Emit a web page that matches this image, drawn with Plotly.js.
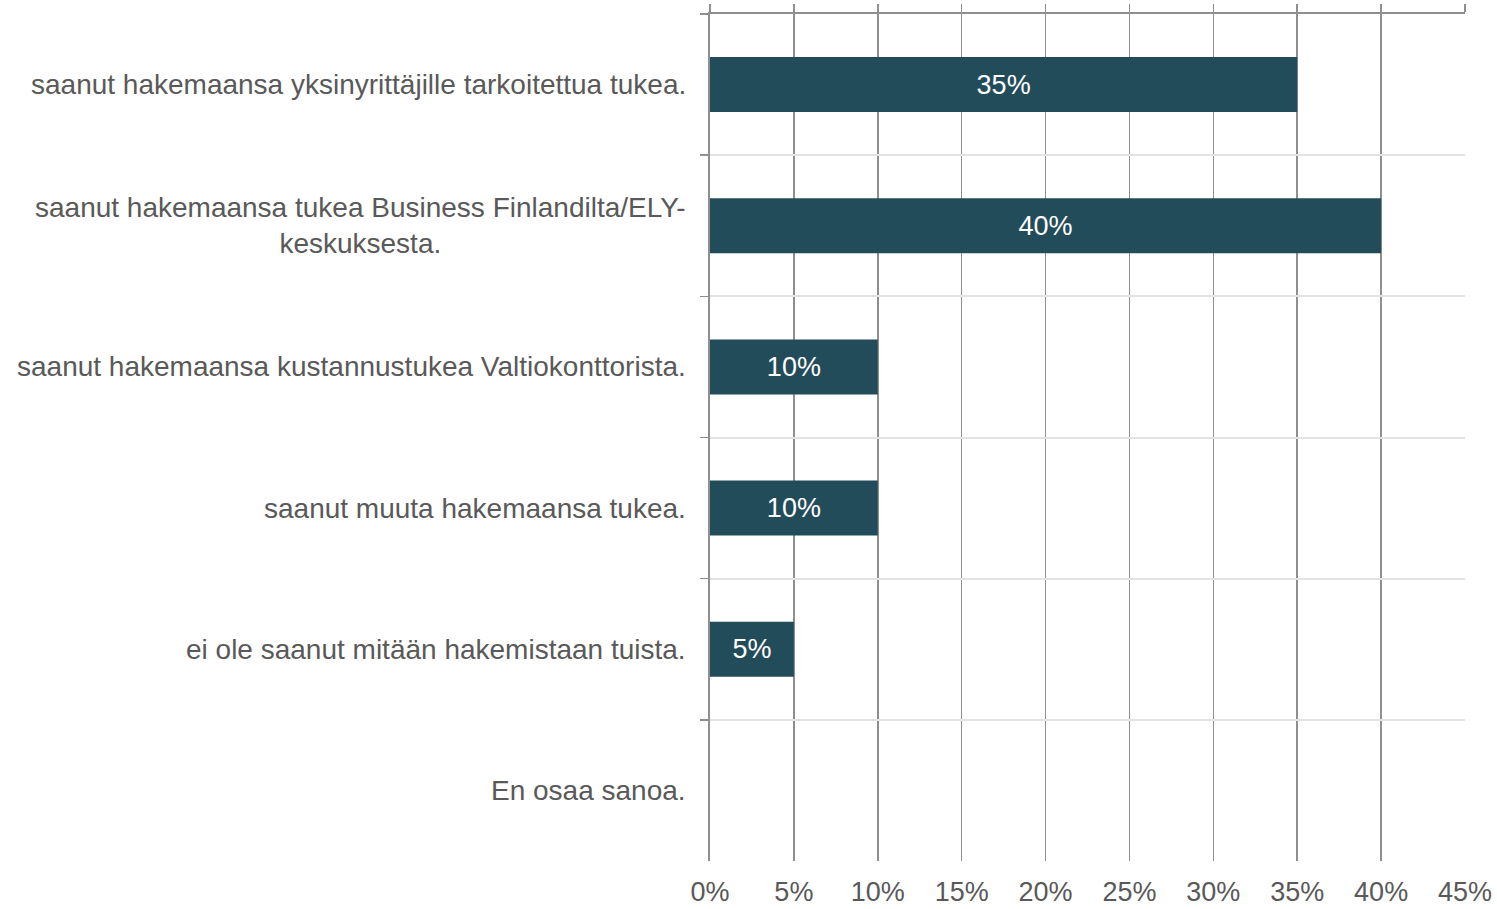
<!DOCTYPE html>
<html>
<head>
<meta charset="utf-8">
<script src="https://cdn.plot.ly/plotly-3.0.1.min.js"></script>
<style>html,body{margin:0;padding:0;background:#fff;}#chart{width:1497px;height:909px;}</style>
</head>
<body>
<div id="chart"></div>
<script>
const categories = [
  "saanut hakemaansa yksinyrittäjille tarkoitettua tukea.",
  "saanut hakemaansa tukea Business Finlandilta/ELY-<br>keskuksesta.",
  "saanut hakemaansa kustannustukea Valtiokonttorista.",
  "saanut muuta hakemaansa tukea.",
  "ei ole saanut mitään hakemistaan tuista.",
  "En osaa sanoa."
];
const values = [35, 40, 10, 10, 5, 0];
const valueLabels = ["35%", "40%", "10%", "10%", "5%", ""];
const xTickVals = [0, 5, 10, 15, 20, 25, 30, 35, 40, 45];

const labelColor = "#595959";
const gridDark = "#8f8f8f";
const font = "Liberation Sans, Arial, sans-serif";

const traces = [
  {
    type: "bar",
    orientation: "h",
    x: values,
    y: categories,
    text: valueLabels,
    textposition: "inside",
    insidetextanchor: "middle",
    textfont: {family: font, size: 27, color: "#ffffff"},
    marker: {color: "#234c5a"},
    hoverinfo: "skip",
    cliponaxis: false
  },
  {
    type: "scatter",
    mode: "markers",
    x: [0],
    y: [categories[0]],
    xaxis: "x2",
    marker: {opacity: 0},
    hoverinfo: "skip",
    showlegend: false
  }
];

const annotations = categories.map(c => ({
  x: 0, xref: "paper", xshift: -22,
  y: c, yref: "y",
  text: c,
  showarrow: false,
  xanchor: "right",
  yanchor: "middle",
  align: "center",
  font: {family: font, size: 28, color: labelColor}
}));

const layout = {
  width: 1497,
  height: 909,
  margin: {l: 710, r: 32, t: 14, b: 48},
  paper_bgcolor: "#ffffff",
  plot_bgcolor: "#ffffff",
  showlegend: false,
  bargap: 0.61,
  font: {family: font, size: 27, color: labelColor},
  xaxis: {
    range: [0, 45],
    tickmode: "array",
    tickvals: xTickVals,
    ticktext: xTickVals.map(v => v + "%"),
    showgrid: true,
    gridcolor: gridDark,
    gridwidth: 1.5,
    zeroline: false,
    showline: false,
    ticks: "",
    ticklabelstandoff: 12,
    tickfont: {family: font, size: 27, color: labelColor},
    fixedrange: true
  },
  xaxis2: {
    overlaying: "x",
    side: "top",
    range: [0, 45],
    tickmode: "array",
    tickvals: xTickVals,
    showticklabels: false,
    showgrid: false,
    zeroline: false,
    showline: true,
    linecolor: gridDark,
    linewidth: 2,
    ticks: "outside",
    ticklen: 8,
    tickwidth: 1.5,
    tickcolor: gridDark
  },
  yaxis: {
    type: "category",
    categoryorder: "array",
    categoryarray: categories,
    autorange: "reversed",
    tickson: "boundaries",
    showgrid: true,
    gridcolor: "#e3e3e3",
    gridwidth: 2,
    ticks: "outside",
    ticklen: 8,
    tickwidth: 1.5,
    tickcolor: gridDark,
    showticklabels: false,
    showline: true,
    linecolor: gridDark,
    linewidth: 2,
    zeroline: false,
    fixedrange: true
  },
  annotations: annotations
};

Plotly.newPlot("chart", traces, layout, {displayModeBar: false, staticPlot: true});
</script>
</body>
</html>
